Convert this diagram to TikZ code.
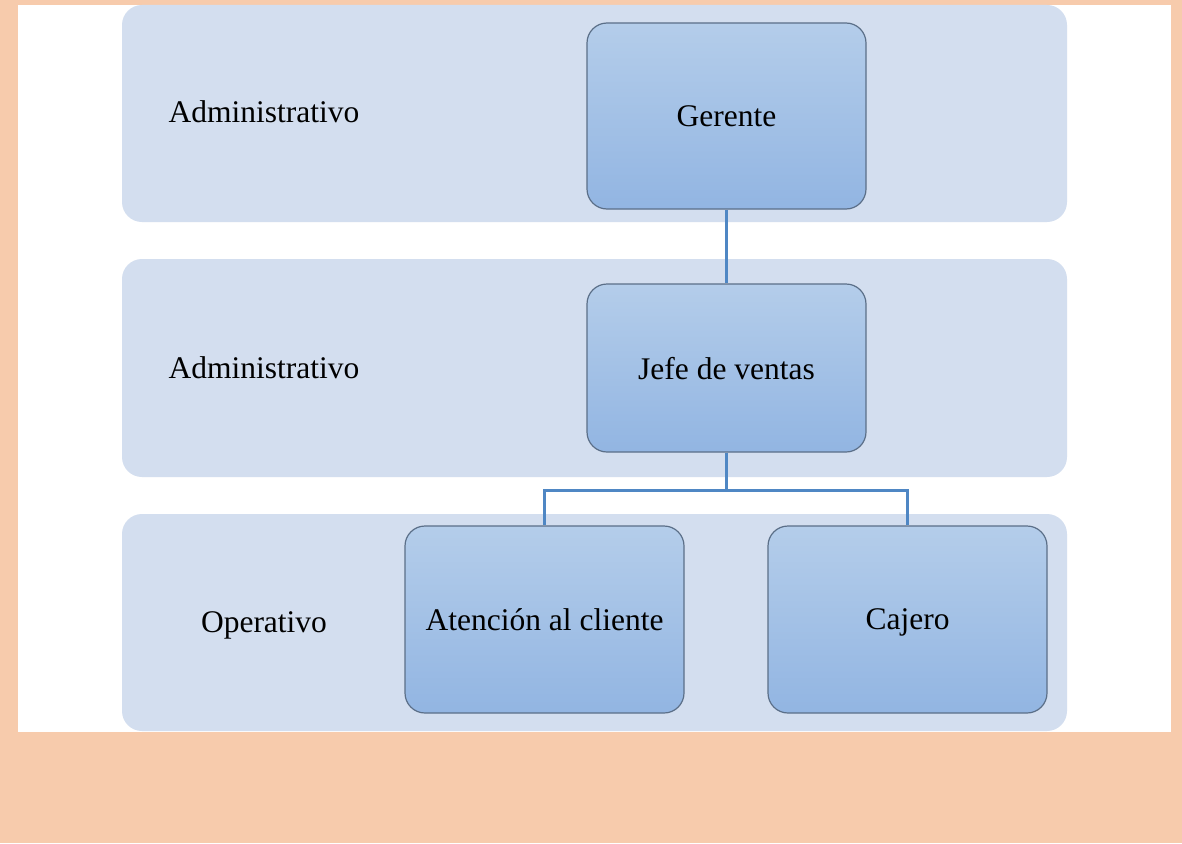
\documentclass[tikz,border=0pt]{standalone}
\usepackage{fontspec}
\setmainfont{Liberation Serif}
\definecolor{peach}{HTML}{F7CBAC}
\definecolor{bandblue}{HTML}{D3DEEF}
\definecolor{boxtop}{HTML}{B4CDEA}
\definecolor{boxbottom}{HTML}{92B5E2}
\definecolor{boxline}{HTML}{5B6F88}
\definecolor{linkblue}{HTML}{4F87C4}
\tikzset{
  puesto/.style={draw=boxline, line width=1.2pt, rounded corners=20pt,
    top color=boxtop, bottom color=boxbottom, minimum width=279pt, inner sep=0pt,
    text depth=0pt},
  nivel/.style={inner sep=0pt, text depth=0pt},
  enlace/.style={draw=linkblue, line width=2.4pt},
}
\begin{document}
\begin{tikzpicture}[x=1pt, y=-1pt, font=\fontsize{31.5}{38}\selectfont]
  % page and bands
  \fill[peach] (0,0) rectangle (1182,843);
  \fill[white] (18,5) rectangle (1171,732);
  \fill[bandblue, rounded corners=20pt] (122,5) rectangle (1067,222);
  \fill[bandblue, rounded corners=20pt] (122,259) rectangle (1067,477);
  \fill[bandblue, rounded corners=20pt] (122,514) rectangle (1067,731);
  % levels
  \node[nivel] (admin1) at (264,111.5) {Administrativo};
  \node[nivel] (admin2) at (264,367.5) {Administrativo};
  \node[nivel] (oper) at (264,622) {Operativo};
  % positions
  \node[puesto, minimum height=186pt] (gerente) at (726.5,116) {Gerente};
  \node[puesto, minimum height=168pt] (jefe) at (726.5,368) {Jefe de ventas};
  \node[puesto, minimum height=187pt] (atencion) at (544.5,619.5) {Atención al cliente};
  \node[puesto, minimum height=187pt] (cajero) at (907.5,619.5) {Cajero};
  % links
  \draw[enlace] (gerente.south) -- (jefe.north);
  \draw[enlace] (jefe.south) -- ++(0,38) coordinate (rama) -| (atencion.north);
  \draw[enlace] (rama) -| (cajero.north);
\end{tikzpicture}
\end{document}
